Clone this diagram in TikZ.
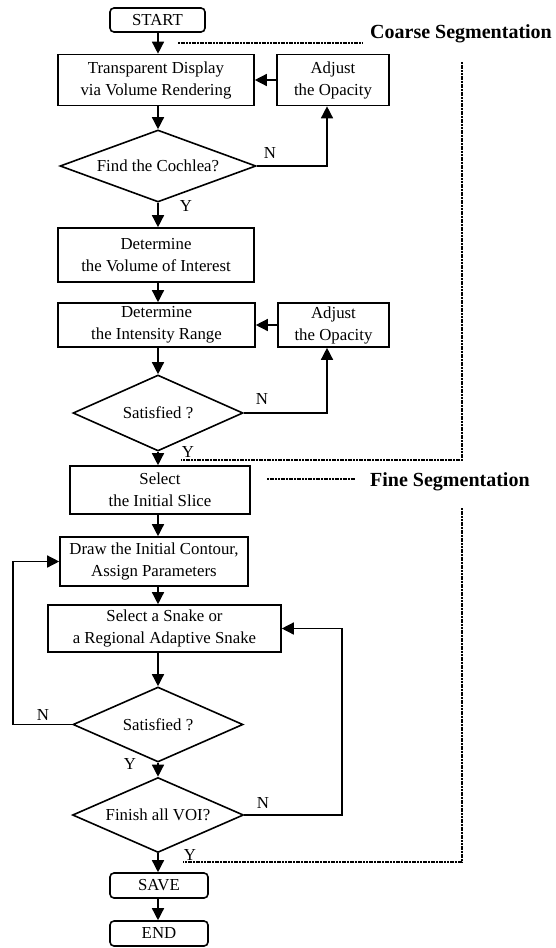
\documentclass[tikz,border=0pt]{standalone}
\usepackage{fontspec}
\setmainfont{Liberation Serif}
\usetikzlibrary{shapes.geometric,arrows.meta}
\newcommand\flowfont{\fontsize{16.8pt}{22pt}\selectfont}
\newcommand\segfont{\fontsize{20pt}{24pt}\selectfont\bfseries}
\begin{document}
\begin{tikzpicture}[x=1pt,y=-1pt,
  box/.style={draw,line width=1.6pt,inner sep=0pt,align=center,font=\flowfont},
  term/.style={box,rounded corners=4pt},
  dia/.style={draw,diamond,line width=1.6pt,inner sep=0pt,aspect=2.5,align=center,font=\flowfont},
  arr/.style={line width=1.4pt,-{Triangle[width=12pt,length=12pt]}},
  lbl/.style={font=\flowfont,inner sep=0pt},
  seg/.style={font=\segfont,inner sep=0pt},
  dots/.style={line width=1.1pt,dash pattern=on 2pt off 0.7pt}]
\useasboundingbox (0,0) rectangle (556,948);
\coordinate (col) at (158,0);
\coordinate (rA) at (327,0);
\coordinate (rB) at (342,0);
\coordinate (lB) at (13,0);
% nodes
\node[term,minimum width=95pt,minimum height=24pt] (start) at (157.5,20) {START};
\node[box,minimum width=196pt,minimum height=51pt] (trans) at (156,80) {Transparent Display\\via Volume Rendering};
\node[box,minimum width=112pt,minimum height=51pt] (adj1) at (333,80) {Adjust\\the Opacity};
\node[dia,minimum width=196pt,minimum height=72pt] (d1) at (158,166) {Find the Cochlea?};
\node[box,minimum width=196pt,minimum height=54pt] (voi) at (156,255) {Determine\\the Volume of Interest};
\node[box,minimum width=197pt,minimum height=44pt] (int) at (156.5,325) {Determine\\the Intensity Range};
\node[box,minimum width=111pt,minimum height=44pt] (adj2) at (333.5,325) {Adjust\\the Opacity};
\node[dia,minimum width=170pt,minimum height=76pt] (d2) at (158,413) {Satisfied ?};
\node[box,minimum width=180pt,minimum height=48pt] (slice) at (160,490) {Select\\the Initial Slice};
\node[box,minimum width=188pt,minimum height=49pt] (drw) at (154,561.5) {Draw the Initial Contour,\\Assign Parameters};
\node[box,minimum width=233pt,minimum height=47pt] (snake) at (164.5,628.5) {Select a Snake or\\a Regional Adaptive Snake};
\node[dia,minimum width=170pt,minimum height=75pt] (d3) at (158,724.5) {Satisfied ?};
\node[dia,minimum width=171pt,minimum height=75pt] (d4) at (158,815) {Finish all VOI?};
\node[term,minimum width=98pt,minimum height=25pt] (save) at (159,885.5) {SAVE};
\node[term,minimum width=98pt,minimum height=25pt] (end) at (159,933.5) {END};
% labels
\node[lbl] (n1) at (270,153) {N};
\node[lbl] (y1) at (186,206) {Y};
\node[lbl] (n2) at (262,399) {N};
\node[lbl] (y2) at (188,452) {Y};
\node[lbl] (n3) at (43,715) {N};
\node[lbl] (y3) at (130,764) {Y};
\node[lbl] (n4) at (263,803) {N};
\node[lbl] (y4) at (190,855) {Y};
\node[seg,anchor=base west] (coarse) at (370,38) {Coarse Segmentation};
\node[seg,anchor=base west] (fine) at (370,486) {Fine Segmentation};
% main column
\draw[arr] (col |- start.south) -- (col |- trans.north);
\draw[arr] (col |- trans.south) -- (d1.north);
\draw[arr] (d1.south) -- (col |- voi.north);
\draw[arr] (col |- voi.south) -- (col |- int.north);
\draw[arr] (col |- int.south) -- (d2.north);
\draw[arr] (d2.south) -- (col |- slice.north);
\draw[arr] (col |- slice.south) -- (col |- drw.north);
\draw[arr] (col |- drw.south) -- (col |- snake.north);
\draw[arr] (col |- snake.south) -- (d3.north);
\draw[arr] (d3.south) -- (d4.north);
\draw[arr] (d4.south) -- (col |- save.north);
\draw[arr] (col |- save.south) -- (col |- end.north);
% side loops
\draw[arr] (adj1.west) -- (trans.east);
\draw[arr] (d1.east) -- (rA |- d1.east) -- (rA |- adj1.south);
\draw[arr] (adj2.west) -- (int.east);
\draw[arr] (d2.east) -- (rA |- d2.east) -- (rA |- adj2.south);
\draw[arr] (d3.west) -- (lB |- d3.west) -- (lB |- drw.west) -- (drw.west);
\draw[arr] (d4.east) -- (rB |- d4.east) -- (rB |- snake.east) -- (snake.east);
% segmentation brackets
\draw[dots] (178,43) -- (363,43);
\draw[dots] (462,62) -- (462,460) -- (181,460);
\draw[dots] (267,479) -- (356,479);
\draw[dots] (462,508) -- (462,862) -- (183,862);
\end{tikzpicture}
\end{document}
